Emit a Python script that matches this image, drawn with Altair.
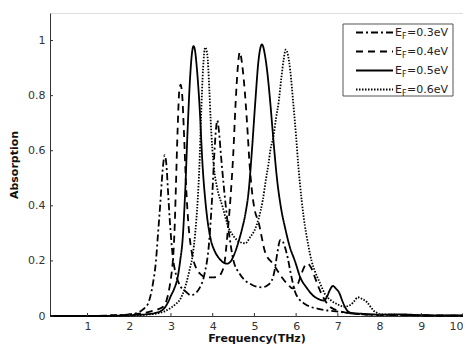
import altair as alt
import pandas as pd

# ---------------- data ----------------
labels = ["0.3eV", "0.4eV", "0.5eV", "0.6eV"]

xA = [0.1, 1.0, 1.6, 2.0, 2.2, 2.33, 2.45, 2.57, 2.64, 2.69, 2.74, 2.78, 2.82, 2.85, 2.89, 2.93, 2.97,
      3.04, 3.12, 3.2, 3.36, 3.48, 3.58, 3.68, 3.8, 3.91, 3.99, 4.04, 4.08, 4.11, 4.15, 4.2, 4.26, 4.32,
      4.4, 4.5, 4.64, 4.79, 4.92, 5.06, 5.18, 5.3, 5.42, 5.49, 5.55, 5.62, 5.68, 5.74, 5.8, 5.86, 5.92,
      5.97, 6.08, 6.21, 6.35, 6.53, 6.75, 7.0, 7.3, 7.6, 8.0, 8.5, 9.0, 10.0]
yA = [0.0, 0.0, 0.002, 0.006, 0.012, 0.024, 0.045, 0.12, 0.2, 0.3, 0.4, 0.49, 0.56, 0.584, 0.55, 0.45, 0.35,
      0.22, 0.15, 0.115, 0.088, 0.075, 0.082, 0.1, 0.15, 0.26, 0.44, 0.59, 0.68, 0.71, 0.67, 0.58, 0.48, 0.39,
      0.29, 0.2, 0.155, 0.127, 0.115, 0.106, 0.104, 0.11, 0.13, 0.17, 0.23, 0.276, 0.27, 0.246, 0.21, 0.163, 0.12,
      0.09, 0.06, 0.044, 0.033, 0.026, 0.02, 0.016, 0.01, 0.006, 0.004, 0.004, 0.002, 0.001]

xB = [0.1, 1.0, 1.6, 2.0, 2.3, 2.5, 2.7, 2.82, 2.9, 2.96, 3.01, 3.05, 3.09, 3.12, 3.16, 3.2, 3.23, 3.27,
      3.31, 3.36, 3.42, 3.5, 3.6, 3.72, 3.85, 4.0, 4.15, 4.22, 4.28, 4.35, 4.43, 4.49, 4.55, 4.6, 4.65,
      4.7, 4.75, 4.79, 4.84, 4.88, 4.93, 5.0, 5.1, 5.26, 5.46, 5.66, 5.8, 5.92, 6.02, 6.12, 6.2, 6.28,
      6.36, 6.45, 6.55, 6.68, 6.8, 6.95, 7.2, 7.5, 8.0, 8.5, 9.0, 10.0]
yB = [0.0, 0.0, 0.002, 0.004, 0.01, 0.016, 0.025, 0.035, 0.06, 0.1, 0.15, 0.21, 0.33, 0.48, 0.68, 0.82, 0.84, 0.8,
      0.67, 0.48, 0.33, 0.23, 0.175, 0.15, 0.14, 0.14, 0.145, 0.16, 0.19, 0.29, 0.436, 0.58, 0.775, 0.9, 0.958,
      0.92, 0.85, 0.775, 0.66, 0.56, 0.47, 0.39, 0.34, 0.23, 0.187, 0.14, 0.115, 0.1, 0.11, 0.15, 0.18, 0.19,
      0.175, 0.14, 0.1, 0.06, 0.035, 0.022, 0.012, 0.007, 0.004, 0.003, 0.002, 0.001]

xC = [0.1, 1.0, 1.6, 2.0, 2.4, 2.6, 2.75, 2.85, 2.93, 3.0, 3.08, 3.16, 3.22, 3.28, 3.34, 3.4, 3.46, 3.5,
      3.54, 3.58, 3.62, 3.68, 3.76, 3.85, 3.95, 4.05, 4.15, 4.25, 4.35, 4.43, 4.52, 4.62, 4.71, 4.79, 4.86,
      4.94, 5.02, 5.1, 5.18, 5.26, 5.32, 5.38, 5.46, 5.54, 5.64, 5.74, 5.85, 5.97, 6.1, 6.25, 6.4, 6.53,
      6.66, 6.74, 6.81, 6.88, 6.95, 7.03, 7.12, 7.2, 7.3, 7.6, 8.0, 8.5, 9.0, 10.0]
yC = [0.0, 0.0, 0.001, 0.003, 0.006, 0.01, 0.017, 0.03, 0.05, 0.074, 0.1, 0.14, 0.2, 0.28, 0.45, 0.68, 0.87, 0.95,
      0.98, 0.96, 0.9, 0.775, 0.54, 0.38, 0.28, 0.235, 0.21, 0.195, 0.19, 0.198, 0.225, 0.27, 0.32, 0.376, 0.45,
      0.6, 0.775, 0.93, 0.986, 0.94, 0.87, 0.775, 0.63, 0.5, 0.39, 0.317, 0.25, 0.2, 0.14, 0.103, 0.075, 0.062,
      0.056, 0.07, 0.095, 0.109, 0.1, 0.085, 0.05, 0.025, 0.012, 0.008, 0.005, 0.006, 0.003, 0.002]

xD = [0.1, 1.0, 1.8, 2.2, 2.5, 2.7, 2.85, 3.0, 3.12, 3.2, 3.36, 3.45, 3.52, 3.58, 3.64, 3.68, 3.72, 3.77,
      3.82, 3.87, 3.92, 3.95, 4.03, 4.1, 4.23, 4.39, 4.5, 4.63, 4.78, 4.9, 5.0, 5.1, 5.2, 5.28, 5.34, 5.38,
      5.46, 5.52, 5.58, 5.65, 5.7, 5.75, 5.8, 5.86, 5.93, 6.0, 6.05, 6.09, 6.18, 6.29, 6.37, 6.45, 6.57,
      6.69, 6.85, 7.0, 7.15, 7.3, 7.4, 7.48, 7.58, 7.7, 7.8, 7.9, 8.1, 8.5, 9.0, 10.0]
yD = [0.0, 0.0, 0.001, 0.003, 0.006, 0.01, 0.017, 0.03, 0.044, 0.056, 0.115, 0.17, 0.22, 0.3, 0.42, 0.54, 0.72, 0.9,
      0.975, 0.95, 0.82, 0.715, 0.537, 0.47, 0.4, 0.317, 0.29, 0.27, 0.264, 0.287, 0.31, 0.353, 0.42, 0.5, 0.555, 0.6,
      0.655, 0.72, 0.775, 0.87, 0.93, 0.967, 0.95, 0.89, 0.775, 0.65, 0.55, 0.483, 0.36, 0.258, 0.2, 0.163, 0.12,
      0.08, 0.055, 0.042, 0.034, 0.04, 0.055, 0.068, 0.062, 0.05, 0.03, 0.014, 0.006, 0.004, 0.002, 0.001]

x_ticks = [1, 2, 3, 4, 5, 6, 7, 8, 9, 10]
y_ticks = [0, 0.2, 0.4, 0.6, 0.8, 1]

# ---------------- build tables ----------------
series = [(labels[0], xA, yA), (labels[1], xB, yB), (labels[2], xC, yC), (labels[3], xD, yD)]
rows = []
for lab, xs, ys in series:
    for i, (xv, yv) in enumerate(zip(xs, ys)):
        rows.append({"s": lab, "x": xv, "y": yv, "o": i})
df = pd.DataFrame(rows)

dashes = [[7, 3, 2, 3], [7, 5], [1, 0], [1.5, 1.5]]
FONT = "DejaVu Sans"
W, H = 413, 303

xscale = alt.Scale(domain=[0.1, 10], nice=False, zero=False)
yscale = alt.Scale(domain=[0, 1.1], nice=False, zero=True)

lines = alt.Chart(df).mark_line(interpolate="monotone", strokeWidth=1.8, color="black").encode(
    x=alt.X("x:Q", scale=xscale,
            axis=alt.Axis(values=x_ticks, title="Frequency(THz)", grid=False, tickSize=0, ticks=False,
                          labelPadding=4, titlePadding=1, labelFont=FONT, labelFontSize=11,
                          labelColor="#333333", titleFont=FONT, titleFontSize=11, titleFontWeight="bold",
                          titleColor="#111111", domainColor="#333333", domainWidth=1,
                          labelOverlap=False, labelFlush=True)),
    y=alt.Y("y:Q", scale=yscale,
            axis=alt.Axis(values=y_ticks, format="~g", title="Absorption", grid=False, tickSize=0,
                          ticks=False, labelPadding=5, titlePadding=8, labelFont=FONT, labelFontSize=11,
                          labelColor="#333333", titleFont=FONT, titleFontSize=11, titleFontWeight="bold",
                          titleColor="#111111", domainColor="#333333", domainWidth=1)),
    strokeDash=alt.StrokeDash("s:N", scale=alt.Scale(domain=labels, range=dashes), legend=None),
    detail="s:N",
    order="o:Q",
)

# inward ticks
xt = alt.Chart(pd.DataFrame({"v": x_ticks})).mark_rule(color="#333333", strokeWidth=1).encode(
    x=alt.X("v:Q", scale=xscale), y=alt.value(H), y2=alt.value(H - 3))
yt = alt.Chart(pd.DataFrame({"v": y_ticks})).mark_rule(color="#333333", strokeWidth=1).encode(
    y=alt.Y("v:Q", scale=yscale), x=alt.value(0), x2=alt.value(3))

# custom legend
one = pd.DataFrame({"k": [0]})
layers = [lines, xt, yt]
box = alt.Chart(one).mark_rect(fill="white", stroke="#555555", strokeWidth=1).encode(
    x=alt.value(293), x2=alt.value(403), y=alt.value(11), y2=alt.value(83))
layers.append(box)
for i, lab in enumerate(labels):
    yy = 19.5 + 19 * i
    layers.append(alt.Chart(one).mark_rule(color="black", strokeWidth=1.8, strokeDash=dashes[i]).encode(
        x=alt.value(306), x2=alt.value(343), y=alt.value(yy)))
    layers.append(alt.Chart(one).mark_text(font=FONT, fontSize=11, align="left", baseline="middle",
                                           color="#222222").encode(
        x=alt.value(345), y=alt.value(yy), text=alt.value("E")))
    layers.append(alt.Chart(one).mark_text(font=FONT, fontSize=8, align="left", baseline="middle",
                                           color="#222222").encode(
        x=alt.value(352), y=alt.value(yy + 4), text=alt.value("F")))
    layers.append(alt.Chart(one).mark_text(font=FONT, fontSize=11, align="left", baseline="middle",
                                           color="#222222").encode(
        x=alt.value(357), y=alt.value(yy), text=alt.value("=" + lab)))

chart = alt.layer(*layers).properties(
    width=W, height=H,
    autosize=alt.AutoSizeParams(type="none"),
    padding={"left": 42, "top": 5, "right": 0, "bottom": 28},
).configure_view(stroke=None).configure(background="white")

chart.save("out.html", embed_options={"renderer": "svg", "actions": False})
